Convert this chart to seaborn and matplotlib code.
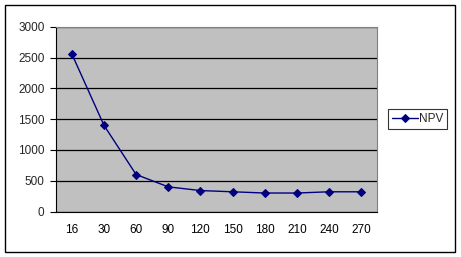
import matplotlib
matplotlib.use("Agg")
import matplotlib.pyplot as plt
import seaborn as sns
import pandas as pd
import numpy as np
from matplotlib.patches import Rectangle

categories = ["16", "30", "60", "90", "120", "150", "180", "210", "240", "270"]
npv = [2560, 1400, 600, 400, 340, 320, 300, 300, 320, 320]

sns.set_theme(style="white")
plt.rcParams['font.family'] = ['Liberation Sans', 'DejaVu Sans']

FS = 8.5
W, H = 461, 257
fig = plt.figure(figsize=(W / 100, H / 100), dpi=100)
ax = fig.add_axes([55.7 / W, 1 - 211.5 / H, (377.3 - 55.7) / W, (211.5 - 26.7) / H])
ax.set_facecolor("#C0C0C0")

df = pd.DataFrame({"x": np.arange(len(categories)), "NPV": npv})
sns.lineplot(data=df, x="x", y="NPV", ax=ax, color="#000080", linewidth=1,
             marker="D", markersize=4.5, markeredgecolor="#000080", label="NPV")

ax.set_xlim(-0.5, len(categories) - 0.5)
ax.set_ylim(0, 3000)
ax.set_yticks(range(0, 3001, 500))
ax.set_xticks(np.arange(len(categories)))
ax.set_xticklabels(categories)
ax.set_xticks(np.arange(len(categories) + 1) - 0.5, minor=True)
ax.tick_params(axis="x", which="major", length=0, labelsize=FS, pad=9, colors="black")
ax.tick_params(axis="x", which="minor", length=4, width=0.8, color="black", direction="out")
ax.tick_params(axis="y", which="major", length=4, width=0.8, labelsize=FS, color="black",
               direction="out", left=True, pad=4)
ax.set_xlabel("")
ax.set_ylabel("")
ax.grid(axis="y", color="black", linewidth=0.9)
ax.set_axisbelow(True)
for s in ["top", "right"]:
    ax.spines[s].set_color("#808080")
    ax.spines[s].set_linewidth(0.8)
for s in ["left", "bottom"]:
    ax.spines[s].set_color("black")
    ax.spines[s].set_linewidth(0.8)

leg = ax.legend(loc="center left", bbox_to_anchor=(387.7 / W, 1 - 119.2 / H),
                bbox_transform=fig.transFigure, frameon=True, fancybox=False,
                fontsize=FS, handlelength=2.2, borderpad=0.35, handletextpad=0.1,
                borderaxespad=0)
leg.get_frame().set_edgecolor("black")
leg.get_frame().set_linewidth(0.8)

fig.patches.append(Rectangle((5.3 / W, 1 - 252 / H), (455 - 5.3) / W, (252 - 5.3) / H,
                             transform=fig.transFigure, fill=False, edgecolor="black",
                             linewidth=1))

fig.savefig("out.png", dpi=100, facecolor="white")
